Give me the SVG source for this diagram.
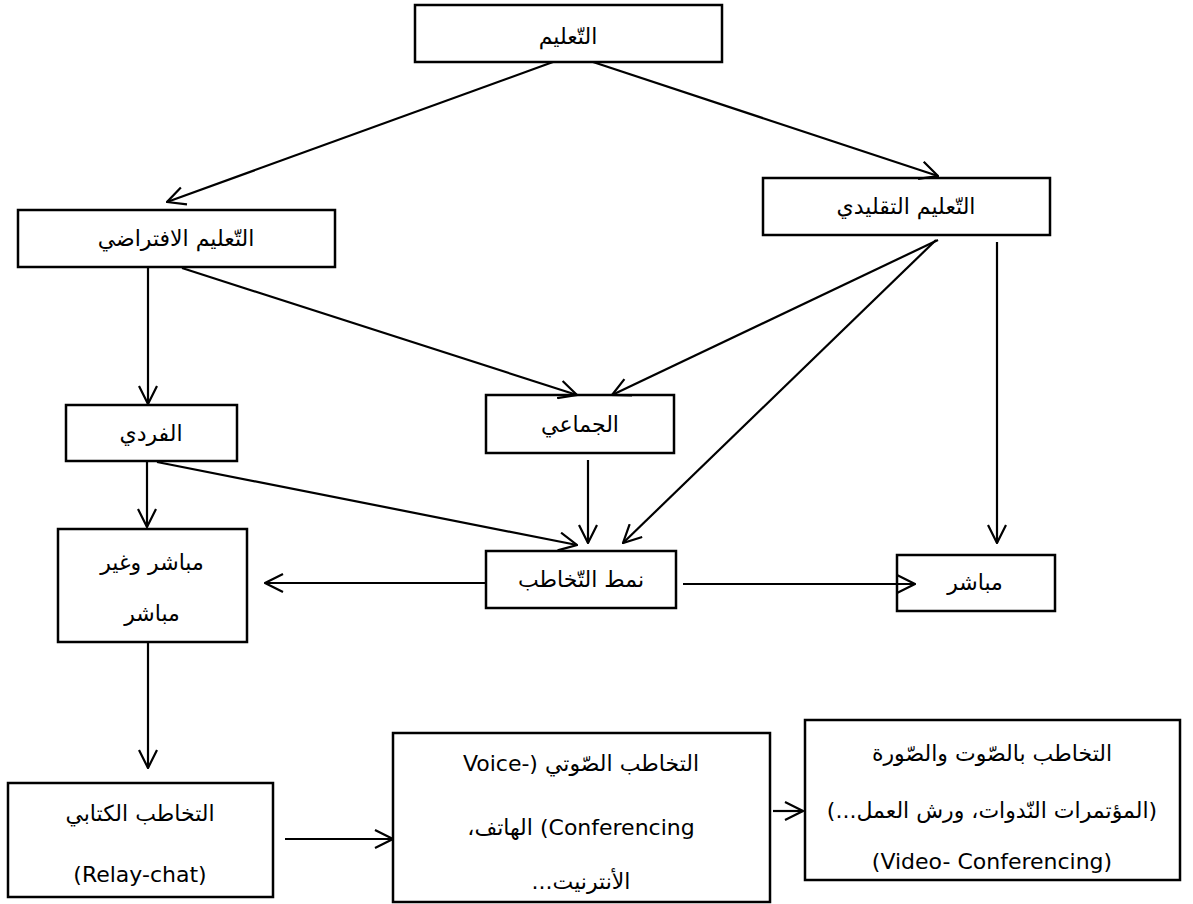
<svg xmlns="http://www.w3.org/2000/svg" width="1193" height="904" viewBox="0 0 1193 904">
<style>
.box{fill:#fff;stroke:#000;stroke-width:2.5}
.t{font-family:'DejaVu Sans','Noto Sans',sans-serif;font-size:22px;text-anchor:middle;fill:#000;direction:rtl;unicode-bidi:embed}
.e{stroke:#000;stroke-width:2.2;fill:none;marker-end:url(#ah)}
</style>
<defs>
<marker id="ah" markerUnits="userSpaceOnUse" viewBox="0 0 20 20" refX="19" refY="10" markerWidth="20" markerHeight="20" orient="auto">
<path d="M1,1 L19,10 L1,19" fill="none" stroke="#000" stroke-width="2.2"/>
</marker>
</defs>
<g id="n1"><rect class="box" x="415" y="5" width="307" height="57"/><text class="t" x="568" y="44" direction="rtl">التّعليم</text></g>
<g id="n2"><rect class="box" x="18" y="210" width="317" height="57"/><text class="t" x="176" y="246" direction="rtl">التّعليم الافتراضي</text></g>
<g id="n3"><rect class="box" x="763" y="178" width="287" height="57"/><text class="t" x="906" y="214" direction="rtl">التّعليم التقليدي</text></g>
<g id="n4"><rect class="box" x="66" y="405" width="171" height="56"/><text class="t" x="151" y="441" direction="rtl">الفردي</text></g>
<g id="n5"><rect class="box" x="486" y="395" width="188" height="58"/><text class="t" x="580" y="432" direction="rtl">الجماعي</text></g>
<g id="n6"><rect class="box" x="58" y="529" width="189" height="113"/><text class="t" x="152" y="570" direction="rtl">مباشر وغير</text><text class="t" x="152" y="621" direction="rtl">مباشر</text></g>
<g id="n7"><rect class="box" x="486" y="551" width="190" height="57"/><text class="t" x="581" y="587" direction="rtl">نمط التّخاطب</text></g>
<g id="n8"><rect class="box" x="897" y="555" width="158" height="56"/><text class="t" x="975" y="590" direction="rtl">مباشر</text></g>
<g id="n9"><rect class="box" x="8" y="783" width="265" height="114"/><text class="t" x="140" y="821" direction="rtl">التخاطب الكتابي</text><text class="t" x="140" y="882" direction="rtl">(Relay-chat)</text></g>
<g id="n10"><rect class="box" x="393" y="733" width="377" height="169"/><text class="t" x="581" y="771" direction="rtl">التخاطب الصّوتي (-Voice</text><text class="t" x="581" y="835" direction="rtl">Conferencing) الهاتف،</text><text class="t" x="581" y="889" direction="rtl">الأنترنيت...</text></g>
<g id="n11"><rect class="box" x="805" y="720" width="375" height="160"/><text class="t" x="992" y="761" direction="rtl">التخاطب بالصّوت والصّورة</text><text class="t" x="992" y="818" direction="rtl">(المؤتمرات النّدوات، ورش العمل...)</text><text class="t" x="992" y="869" direction="rtl">(Video- Conferencing)</text></g>
<g id="connectors">
<line class="e" x1="553" y1="62" x2="167" y2="202"/>
<line class="e" x1="593" y1="62" x2="938" y2="176"/>
<line class="e" x1="148" y1="268" x2="148" y2="404"/>
<line class="e" x1="182" y1="268" x2="577" y2="395"/>
<line class="e" x1="147" y1="462" x2="147" y2="527"/>
<line class="e" x1="157" y1="462" x2="577" y2="545"/>
<line class="e" x1="938" y1="240" x2="612" y2="395"/>
<line class="e" x1="936" y1="240" x2="623" y2="543"/>
<line class="e" x1="997" y1="242" x2="997" y2="543"/>
<line class="e" x1="588" y1="460" x2="588" y2="543"/>
<line class="e" x1="485" y1="583" x2="265" y2="583"/>
<line class="e" x1="683" y1="584" x2="915" y2="584"/>
<line class="e" x1="148" y1="643" x2="148" y2="768"/>
<line class="e" x1="285" y1="839" x2="393" y2="839"/>
<line class="e" x1="773" y1="811" x2="803" y2="811"/>
</g>
</svg>
